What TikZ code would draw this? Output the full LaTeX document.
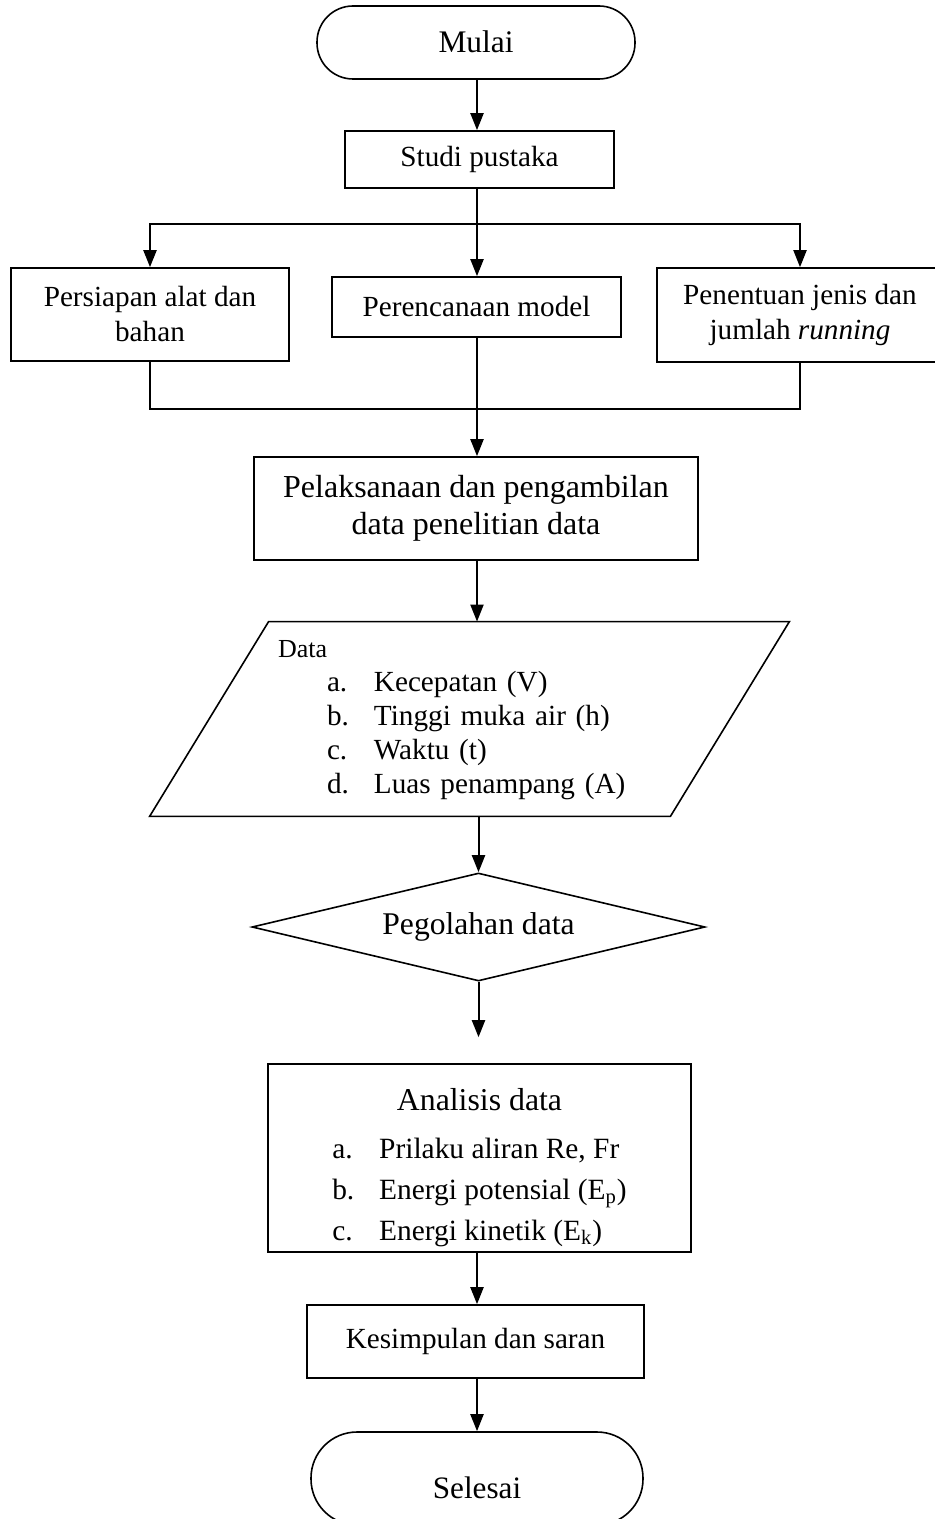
\documentclass[tikz,border=0pt]{standalone}
\usepackage{fontspec}
\setmainfont{Liberation Serif}
\usetikzlibrary{arrows.meta,shapes.geometric,calc}
\newcommand\myfs[2]{\fontsize{#1}{#2}\selectfont}
\begin{document}
\begin{tikzpicture}[x=0.5pt,y=-0.5pt,
  box/.style={draw,line width=0.8pt,inner sep=0pt},
  arr/.style={line width=1pt,-{Triangle[length=8.5pt,width=6.5pt]}},
  ln/.style={line width=1pt}]
\useasboundingbox (0,0) rectangle (935,1519);
\coordinate (axis) at (477,0);
\coordinate (br) at (477,224);
\coordinate (jn) at (477,409);

\node[box,rounded corners=18pt,minimum width=159pt,minimum height=36.5pt,text height=11pt,text depth=1pt,font=\myfs{15.7}{18}] (mulai) at (476,42.5) {Mulai};
\node[box,minimum width=134.5pt,minimum height=28.5pt,font=\myfs{14.6}{17.5}] (studi) at (479.5,159.5) {Studi pustaka};

\node[box,align=center,minimum width=139pt,minimum height=46.5pt,font=\myfs{14.6}{17.5}] (persiapan) at (150,314.5) {Persiapan alat dan\\bahan};
\node[box,minimum width=144.5pt,minimum height=30pt,font=\myfs{14.6}{17.5}] (perencanaan) at (476.5,307) {Perencanaan model};
\node[box,align=center,minimum width=143pt,minimum height=47pt,font=\myfs{14.6}{17.5}] (penentuan) at (800,315) {Penentuan jenis dan\\jumlah \textit{running}};

\node[box,align=center,minimum width=222pt,minimum height=51.5pt,font=\myfs{16}{18.5}] (pelaksanaan) at (476,508.5) {Pelaksanaan dan pengambilan\\data penelitian data};

\node[inner sep=0pt,minimum width=319.5pt,minimum height=97pt,text width=191.5pt,align=left,font=\myfs{14.6}{17}] (data) at (469.5,719)
{\noindent\begin{tabular}{@{\hspace{24.5pt}}p{23.5pt}@{}l@{}}
\multicolumn{2}{@{}l@{}}{\myfs{13}{15}Data}\\
a. & Kecepatan (V)\\
b. & Tinggi muka air (h)\\
c. & Waktu (t)\\
d. & Luas penampang (A)
\end{tabular}};
\draw[line width=0.8pt] (data.south west) -- ([xshift=-59.5pt]data.south east) -- (data.north east) -- ([xshift=59.5pt]data.north west) -- cycle;

\node[draw,line width=0.8pt,diamond,aspect=4.19,inner sep=0pt,minimum width=226.5pt,minimum height=54pt,font=\myfs{15.8}{18}] (olah) at (478.5,927) {Pegolahan data};

\node[box,minimum width=211.5pt,minimum height=94pt,text height=0pt,text depth=48pt,font=\myfs{14.7}{20.5}] (analisis) at (479.5,1158)
{\begin{tabular}[t]{@{}p{23.5pt}@{}l@{}}
\multicolumn{2}{@{}c@{}}{\myfs{15.9}{20}Analisis data}\\[3.5pt]
a. & Prilaku aliran Re, Fr\\
b. & Energi potensial (E\textsubscript{p})\\
c. & Energi kinetik (E\textsubscript{k})
\end{tabular}};

\node[box,minimum width=168.5pt,minimum height=36.5pt,font=\myfs{14.6}{17.5}] (kesimpulan) at (475.5,1341.5) {Kesimpulan dan saran};
\node[box,rounded corners=23pt,minimum width=166pt,minimum height=46.5pt,text height=19.6pt,text depth=0pt,font=\myfs{15.6}{18}] (selesai) at (477,1478.5) {Selesai};

% connectors
\draw[arr] (mulai.south -| axis) -- (studi.north -| axis);
\draw[arr] (studi.south -| axis) -- (perencanaan.north -| axis);
\draw[arr] (br) -| (persiapan.north);
\draw[arr] (br) -| (penentuan.north);
\draw[ln] (persiapan.south) |- (jn) -| (penentuan.south);
\draw[arr] (perencanaan.south -| axis) -- (pelaksanaan.north -| axis);
\draw[arr] (pelaksanaan.south -| axis) -- (data.north -| axis);
\draw[arr] (data.south -| olah.north) -- (olah.north);
\draw[arr] (olah.south) -- ($(analisis.north -| olah.south)+(0,13pt)$);
\draw[arr] (analisis.south -| axis) -- (kesimpulan.north -| axis);
\draw[arr] (kesimpulan.south -| axis) -- (selesai.north -| axis);
\end{tikzpicture}
\end{document}
